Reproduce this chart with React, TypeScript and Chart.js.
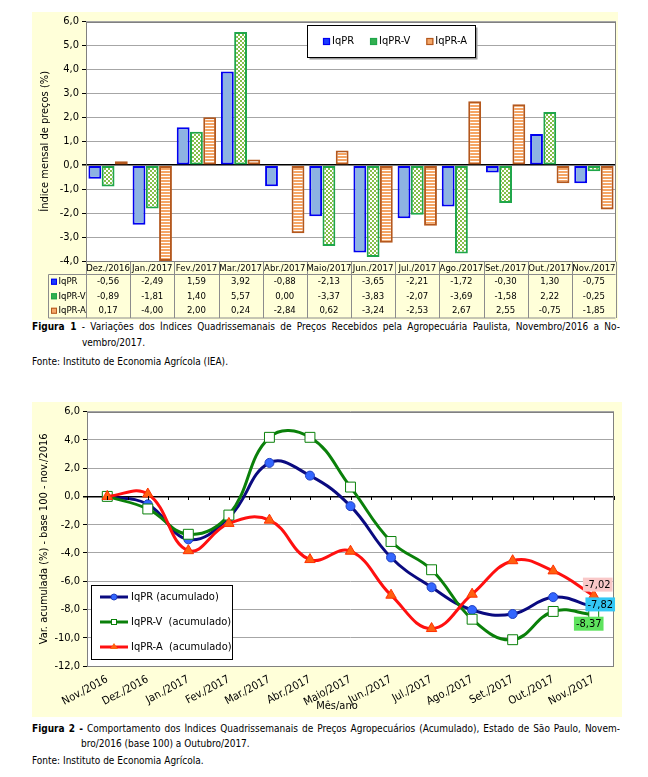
import React, { useEffect, useRef } from "react";
import { Chart, registerables } from "chart.js";
Chart.register(...registerables);

const FONT = '"DejaVu Sans Condensed", "Liberation Sans Narrow", "DejaVu Sans", sans-serif';
const CREAM = "#ffffd9";

// ---------- Figure 1 data (monthly indices) ----------
const barCategories = [
  "Dez./2016", "Jan./2017", "Fev./2017", "Mar./2017", "Abr./2017", "Maio/2017",
  "Jun./2017", "Jul./2017", "Ago./2017", "Set./2017", "Out./2017", "Nov./2017",
];
const barSeriesNames = ["IqPR", "IqPR-V", "IqPR-A"];
const iqprMonthly = [-0.56, -2.49, 1.59, 3.92, -0.88, -2.13, -3.65, -2.21, -1.72, -0.3, 1.3, -0.75];
const iqprVMonthly = [-0.89, -1.81, 1.4, 5.57, 0.0, -3.37, -3.83, -2.07, -3.69, -1.58, 2.22, -0.25];
const iqprAMonthly = [0.17, -4.0, 2.0, 0.24, -2.84, 0.62, -3.24, -2.53, 2.67, 2.55, -0.75, -1.85];
const barYMin = -4;
const barYMax = 6;
const barYStep = 1;

// ---------- Figure 2 data (accumulated) ----------
const lineCategories = [
  "Nov./2016", "Dez./2016", "Jan./2017", "Fev./2017", "Mar./2017", "Abr./2017", "Maio/2017",
  "Jun./2017", "Jul./2017", "Ago./2017", "Set./2017", "Out./2017", "Nov./2017",
];
const lineSeriesNames = ["IqPR (acumulado)", "IqPR-V  (acumulado)", "IqPR-A  (acumulado)"];
const iqprAcc = [0, -0.56, -3.04, -1.49, 2.37, 1.47, -0.69, -4.32, -6.43, -8.04, -8.32, -7.13, -7.82];
const iqprVAcc = [0, -0.89, -2.68, -1.32, 4.18, 4.18, 0.66, -3.19, -5.19, -8.69, -10.14, -8.14, -8.37];
const iqprAAcc = [0, 0.17, -3.84, -1.91, -1.68, -4.47, -3.88, -6.99, -9.35, -6.92, -4.55, -5.27, -7.02];
const lineYMin = -12;
const lineYMax = 6;
const lineYStep = 2;

const fmt1 = (v: number) => v.toFixed(1).replace(".", ",");
const fmt2 = (v: number) => v.toFixed(2).replace(".", ",");

function makeChecker(): CanvasPattern {
  const c = document.createElement("canvas");
  c.width = 4;
  c.height = 4;
  const g = c.getContext("2d")!;
  g.fillStyle = "#ffffff";
  g.fillRect(0, 0, 4, 4);
  g.fillStyle = "#86bf4a";
  g.fillRect(0, 0, 2, 2);
  g.fillRect(2, 2, 2, 2);
  return g.createPattern(c, "repeat")!;
}
function makeStripes(): CanvasPattern {
  const c = document.createElement("canvas");
  c.width = 3;
  c.height = 3;
  const g = c.getContext("2d")!;
  g.fillStyle = "#ffffff";
  g.fillRect(0, 0, 3, 3);
  g.fillStyle = "#f5a565";
  g.fillRect(0, 0, 3, 2);
  return g.createPattern(c, "repeat")!;
}

const barColors = [
  { fill: "#8db3e2", border: "#0000f0", mark: "#1a3cff" },
  { fill: "#86bf4a", border: "#1fa64a", mark: "#33b050" },
  { fill: "#f5a565", border: "#b4581e", mark: "#f4a86a" },
];

export default function App() {
  const ref1 = useRef<HTMLCanvasElement>(null);
  const ref2 = useRef<HTMLCanvasElement>(null);

  useEffect(() => {
    document.body.style.margin = "0";
    const checker = makeChecker();
    const stripes = makeStripes();

    const bgPlugin = {
      id: "bgPlugin",
      beforeDraw(chart: any) {
        const { ctx, chartArea: a, width, height } = chart;
        ctx.save();
        ctx.fillStyle = CREAM;
        ctx.fillRect(0, 0, width, height);
        ctx.fillStyle = "#ffffff";
        ctx.fillRect(a.left, a.top, a.right - a.left, a.bottom - a.top);
        ctx.restore();
      },
      afterDatasetsDraw(chart: any) {
        const { ctx, chartArea: a } = chart;
        ctx.save();
        ctx.strokeStyle = "#808080";
        ctx.lineWidth = 1;
        ctx.strokeRect(Math.round(a.left) + 0.5, Math.round(a.top) + 0.5, Math.round(a.right - a.left) - 1, Math.round(a.bottom - a.top));
        ctx.restore();
      },
    };

    // ---------- Chart 1 ----------
    const legend1 = {
      id: "legend1",
      afterDraw(chart: any) {
        const { ctx } = chart;
        ctx.save();
        const bx = 275.5, by = 13.5, bw = 168, bh = 32;
        ctx.fillStyle = "#9a9a9a";
        ctx.fillRect(bx + 2, by + 2, bw, bh);
        ctx.fillStyle = "#ffffff";
        ctx.fillRect(bx, by, bw, bh);
        ctx.strokeStyle = "#000";
        ctx.lineWidth = 1;
        ctx.strokeRect(bx, by, bw, bh);
        ctx.font = `11px ${FONT}`;
        ctx.textBaseline = "middle";
        ctx.fillStyle = "#000";
        let x = 291;
        const cy = by + bh / 2;
        chart.data.datasets.forEach((ds: any, i: number) => {
          ctx.fillStyle = barColors[i].mark;
          ctx.fillRect(x, cy - 3.5, 7, 7);
          ctx.strokeStyle = barColors[i].border;
          ctx.lineWidth = 1.2;
          ctx.strokeRect(x + 0.5, cy - 3, 6, 6);
          ctx.fillStyle = "#000";
          ctx.fillText(ds.label, x + 9, cy);
          x += 9 + ctx.measureText(ds.label).width + 16;
        });
        ctx.restore();
      },
    };

    const table1 = {
      id: "table1",
      afterDraw(chart: any) {
        const { ctx, chartArea: a } = chart;
        const xs = chart.scales.x;
        const n = barCategories.length;
        const w = (a.right - a.left) / n;
        const top = Math.round(a.bottom) + 0.5;
        const hH = 13, rH = 14.5;
        const rowsTop = top + hH;
        const bottom = rowsTop + 3 * rH;
        const labelLeft = 16.5;
        ctx.save();
        ctx.strokeStyle = "#8c8c8c";
        ctx.lineWidth = 1;
        ctx.beginPath();
        for (let i = 0; i <= n; i++) {
          const xx = Math.round(a.left + i * w) + 0.5;
          ctx.moveTo(xx, top);
          ctx.lineTo(xx, bottom);
        }
        ctx.moveTo(labelLeft, rowsTop);
        ctx.lineTo(Math.round(a.right) - 0.5, rowsTop);
        ctx.moveTo(labelLeft, bottom);
        ctx.lineTo(Math.round(a.right) - 0.5, bottom);
        ctx.moveTo(labelLeft, rowsTop);
        ctx.lineTo(labelLeft, bottom);
        ctx.stroke();

        ctx.fillStyle = "#000";
        ctx.textBaseline = "middle";
        ctx.textAlign = "center";
        ctx.font = `9.5px ${FONT}`;
        barCategories.forEach((c, i) => {
          ctx.fillText(c, xs.getPixelForValue(i), top + hH / 2 + 0.5);
        });
        const series = [iqprMonthly, iqprVMonthly, iqprAMonthly];
        series.forEach((arr, r) => {
          const cy = rowsTop + rH * r + rH / 2;
          arr.forEach((v, i) => {
            ctx.fillText(fmt2(v), xs.getPixelForValue(i), cy);
          });
          ctx.fillStyle = barColors[r].mark;
          ctx.fillRect(labelLeft + 2.5, cy - 3, 6, 6);
          ctx.strokeStyle = barColors[r].border;
          ctx.lineWidth = 1;
          ctx.strokeRect(labelLeft + 3, cy - 2.5, 5, 5);
          ctx.fillStyle = "#000";
          ctx.textAlign = "left";
          ctx.fillText(barSeriesNames[r], labelLeft + 10, cy);
          ctx.textAlign = "center";
        });
        ctx.restore();
      },
    };

    const chart1 = new Chart(ref1.current!, {
      type: "bar",
      data: {
        labels: barCategories,
        datasets: [
          { label: barSeriesNames[0], data: iqprMonthly, backgroundColor: barColors[0].fill, borderColor: barColors[0].border, borderWidth: 2, borderSkipped: false },
          { label: barSeriesNames[1], data: iqprVMonthly, backgroundColor: checker, borderColor: barColors[1].border, borderWidth: 2, borderSkipped: false },
          { label: barSeriesNames[2], data: iqprAMonthly, backgroundColor: stripes, borderColor: barColors[2].border, borderWidth: 2, borderSkipped: false },
        ],
      },
      options: {
        responsive: false,
        animation: false,
        layout: { padding: { top: 7, right: 2, bottom: 59, left: 0 } },
        plugins: { legend: { display: false }, tooltip: { enabled: false } },
        datasets: { bar: { categoryPercentage: 0.9, barPercentage: 0.97 } },
        scales: {
          x: { display: false },
          y: {
            min: barYMin,
            max: barYMax,
            ticks: { stepSize: barYStep, callback: (v: any) => fmt1(Number(v)), font: { family: FONT, size: 11 }, color: "#000", padding: 3 },
            grid: {
              color: (c: any) => (c.tick && c.tick.value === 0 ? "#000" : "#a6a6a6"),
              lineWidth: (c: any) => (c.tick && c.tick.value === 0 ? 1.5 : 1),
              tickLength: 4,
              tickColor: "#000",
            },
            border: { display: false },
            title: { display: true, text: "Índice mensal de preços (%)", font: { family: FONT, size: 11 }, color: "#000", padding: { top: 7, bottom: 0 } },
            afterFit: (s: any) => { s.width = 54; },
          },
        },
      } as any,
      plugins: [bgPlugin, legend1, table1],
    });

    // ---------- Chart 2 ----------
    const pointColors = [
      { line: "#0a0a80", fill: "#3366ff", border: "#2040c0", style: "circle", r: 4.5 },
      { line: "#0a800a", fill: "#ffffff", border: "#0a800a", style: "rect", r: 7 },
      { line: "#ff1010", fill: "#ff6010", border: "#ff3000", style: "triangle", r: 6 },
    ];

    const legend2 = {
      id: "legend2",
      afterDraw(chart: any) {
        const { ctx } = chart;
        ctx.save();
        const bx = 59.5, by = 183.5, bw = 141, bh = 74;
        ctx.fillStyle = "#ffffff";
        ctx.fillRect(bx, by, bw, bh);
        ctx.strokeStyle = "#000";
        ctx.lineWidth = 1;
        ctx.strokeRect(bx, by, bw, bh);
        ctx.font = `11px ${FONT}`;
        ctx.textBaseline = "middle";
        lineSeriesNames.forEach((name, i) => {
          const cy = 195 + i * 25;
          const pc = pointColors[i];
          ctx.strokeStyle = pc.line;
          ctx.lineWidth = 3;
          ctx.beginPath();
          ctx.moveTo(68, cy);
          ctx.lineTo(96, cy);
          ctx.stroke();
          ctx.fillStyle = pc.fill;
          ctx.strokeStyle = pc.border;
          ctx.lineWidth = 1;
          if (pc.style === "circle") {
            ctx.beginPath();
            ctx.arc(82, cy, 3, 0, Math.PI * 2);
            ctx.fill();
            ctx.stroke();
          } else if (pc.style === "rect") {
            ctx.fillRect(79, cy - 3, 6, 6);
            ctx.strokeRect(79.5, cy - 2.5, 5, 5);
          } else {
            ctx.beginPath();
            ctx.moveTo(82, cy - 4);
            ctx.lineTo(86, cy + 2);
            ctx.lineTo(78, cy + 2);
            ctx.closePath();
            ctx.fill();
          }
          ctx.fillStyle = "#000";
          ctx.fillText(name, 99, cy);
        });
        ctx.restore();
      },
    };

    const zeroTicks = {
      id: "zeroTicks",
      afterDraw(chart: any) {
        const { ctx, chartArea: a } = chart;
        const y0 = Math.round(chart.scales.y.getPixelForValue(0));
        const n = lineCategories.length;
        const w = (a.right - a.left) / n;
        ctx.save();
        ctx.strokeStyle = "#000";
        ctx.lineWidth = 1;
        ctx.beginPath();
        for (let i = 0; i <= 2 * n; i++) {
          const xx = Math.round(a.left + (i * w) / 2) + 0.5;
          ctx.moveTo(xx, y0);
          ctx.lineTo(xx, y0 + 4);
        }
        ctx.stroke();
        ctx.font = `11px ${FONT}`;
        ctx.fillStyle = "#000";
        ctx.textAlign = "center";
        ctx.textBaseline = "middle";
        ctx.fillText("Mês/ano", 305, 304);
        ctx.restore();
      },
    };

    const endLabels = [
      { ds: 2, bg: "#f9c8c8", dx: 4, dy: -11 },
      { ds: 0, bg: "#33c7f5", dx: 6.5, dy: -2.5 },
      { ds: 1, bg: "#5ee35e", dx: -5, dy: 9 },
    ];
    const endLabelPlugin = {
      id: "endLabels",
      afterDatasetsDraw(chart: any) {
        const { ctx } = chart;
        ctx.save();
        ctx.font = `11px ${FONT}`;
        ctx.textAlign = "center";
        ctx.textBaseline = "middle";
        endLabels.forEach((l) => {
          const meta = chart.getDatasetMeta(l.ds);
          const data = chart.data.datasets[l.ds].data as number[];
          const last = data.length - 1;
          const pt = meta.data[last];
          const txt = fmt2(data[last]);
          const tw = ctx.measureText(txt).width + 4;
          const cx = pt.x + l.dx, cy = pt.y + l.dy;
          ctx.fillStyle = l.bg;
          ctx.fillRect(cx - tw / 2, cy - 7, tw, 14);
          ctx.fillStyle = "#000";
          ctx.fillText(txt, cx, cy + 0.5);
        });
        ctx.restore();
      },
    };

    const series2 = [iqprAcc, iqprVAcc, iqprAAcc];
    const orders = [2, 1, 0];
    const chart2 = new Chart(ref2.current!, {
      type: "line",
      data: {
        labels: lineCategories,
        datasets: series2.map((d, i) => ({
          label: lineSeriesNames[i],
          data: d,
          borderColor: pointColors[i].line,
          borderWidth: 3,
          tension: 0.42,
          pointStyle: pointColors[i].style,
          pointRadius: pointColors[i].r,
          pointBackgroundColor: pointColors[i].fill,
          pointBorderColor: pointColors[i].border,
          pointBorderWidth: 1,
          order: orders[i],
          clip: false,
        })),
      },
      options: {
        responsive: false,
        animation: false,
        layout: { padding: { top: 7, right: 2, bottom: 0, left: 0 } },
        plugins: { legend: { display: false }, tooltip: { enabled: false } },
        scales: {
          x: {
            offset: true,
            grid: { display: false, drawTicks: false },
            border: { display: false },
            ticks: { autoSkip: false, maxRotation: 28, minRotation: 28, padding: 7, font: { family: FONT, size: 11 }, color: "#000" },
            afterFit: (s: any) => { s.height = 51; },
          },
          y: {
            min: lineYMin,
            max: lineYMax,
            ticks: { stepSize: lineYStep, callback: (v: any) => fmt1(Number(v)), font: { family: FONT, size: 11 }, color: "#000", padding: 3 },
            grid: {
              color: (c: any) => (c.tick && c.tick.value === 0 ? "#000" : "#a6a6a6"),
              lineWidth: (c: any) => (c.tick && c.tick.value === 0 ? 1.5 : 1),
              tickLength: 4,
              tickColor: "#000",
            },
            border: { display: false },
            title: { display: true, text: "Var. acumulada (%) - base 100 - nov./2016", font: { family: FONT, size: 11 }, color: "#000", padding: { top: 6, bottom: 0 } },
            afterFit: (s: any) => { s.width = 55; },
          },
        },
      } as any,
      plugins: [bgPlugin, legend2, zeroTicks, endLabelPlugin],
    });

    return () => {
      chart1.destroy();
      chart2.destroy();
    };
  }, []);

  const cap: React.CSSProperties = {
    position: "absolute",
    fontFamily: FONT,
    fontSize: 10,
    lineHeight: "12px",
    color: "#000",
    whiteSpace: "nowrap",
  };
  const capJust: React.CSSProperties = {
    ...cap,
    width: 588,
    whiteSpace: "normal",
    textAlign: "justify",
    textAlignLast: "justify" as any,
    height: 12,
    overflow: "hidden",
  };

  return (
    <div style={{ position: "absolute", left: 0, top: 0, width: 648, height: 777, background: "#fff" }}>
      <canvas ref={ref1} width={586} height={308} style={{ position: "absolute", left: 32, top: 12 }} />
      <div style={{ ...capJust, left: 32, top: 321 }}>
        <b>Figura 1</b> - Variações dos Índices Quadrissemanais de Preços Recebidos pela Agropecuária Paulista, Novembro/2016 a No-
      </div>
      <div style={{ ...cap, left: 82, top: 337 }}>vembro/2017.</div>
      <div style={{ ...cap, left: 32, top: 356 }}>Fonte: Instituto de Economia Agrícola (IEA).</div>

      <canvas ref={ref2} width={590} height={315} style={{ position: "absolute", left: 32, top: 402 }} />
      <div style={{ ...capJust, left: 32, top: 723 }}>
        <b>Figura 2 -</b> Comportamento dos Índices Quadrissemanais de Preços Agropecuários (Acumulado), Estado de São Paulo, Novem-
      </div>
      <div style={{ ...cap, left: 81, top: 738 }}>bro/2016 (base 100) a Outubro/2017.</div>
      <div style={{ ...cap, left: 32, top: 755 }}>Fonte: Instituto de Economia Agrícola.</div>
    </div>
  );
}
